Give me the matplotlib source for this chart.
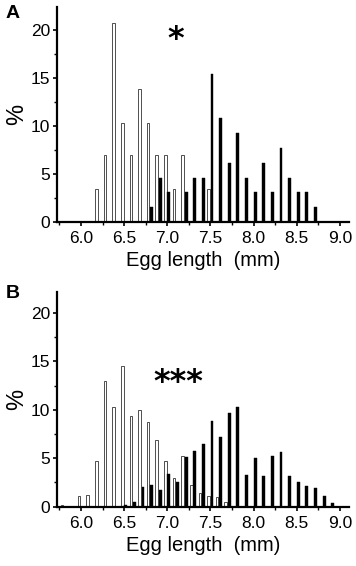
import numpy as np
import matplotlib.pyplot as plt
from matplotlib.ticker import MultipleLocator

plt.rcParams["font.family"] = ["Liberation Sans", "DejaVu Sans"]

# Panel A: egg length bins (mm) and percentages
a_white_x = [6.2, 6.3, 6.4, 6.5, 6.6, 6.7, 6.8, 6.9, 7.0, 7.1, 7.2, 7.5]
a_white_pct = [3.45, 6.9, 20.7, 10.3, 6.9, 13.8, 10.3, 6.9, 6.9, 3.45, 6.9, 3.45]
a_black_x = [6.8, 6.9, 7.0, 7.2, 7.3, 7.4, 7.5, 7.6, 7.7, 7.8, 7.9, 8.0,
             8.1, 8.2, 8.3, 8.4, 8.5, 8.6, 8.7]
a_black_pct = [1.54, 4.6, 3.08, 3.08, 4.6, 4.6, 15.4, 10.8, 6.15, 9.23, 4.6,
               3.08, 6.15, 3.08, 7.69, 4.6, 3.08, 3.08, 1.54]

# Panel B
b_white_x = [5.8, 6.0, 6.1, 6.2, 6.3, 6.4, 6.5, 6.6, 6.7, 6.8, 6.9, 7.0,
             7.1, 7.2, 7.3, 7.4, 7.5, 7.6, 7.7, 7.8]
b_white_pct = [0.2, 1.1, 1.2, 4.7, 13.0, 10.3, 14.5, 9.4, 10.0, 8.7, 6.9,
               4.7, 3.0, 5.2, 2.2, 1.4, 1.1, 0.95, 0.5, 0.08]
b_black_x = [6.5, 6.6, 6.7, 6.8, 6.9, 7.0, 7.1, 7.2, 7.3, 7.4, 7.5, 7.6,
             7.7, 7.8, 7.9, 8.0, 8.1, 8.2, 8.3, 8.4, 8.5, 8.6, 8.7, 8.8, 8.9]
b_black_pct = [0.15, 0.5, 2.0, 2.2, 1.7, 3.4, 2.5, 5.1, 5.8, 6.5, 8.8, 7.2,
               9.7, 10.3, 3.3, 5.0, 3.2, 5.2, 5.6, 3.2, 2.6, 2.1, 1.9, 1.1, 0.35]

x_ticks = [6.0, 6.5, 7.0, 7.5, 8.0, 8.5, 9.0]
y_ticks = [0, 5, 10, 15, 20]

fig = plt.figure(figsize=(3.56, 5.66), dpi=100)


def draw_panel(ax, wx, wy, bx, by, ytop):
    ax.bar(np.array(wx) - 0.022, wy, width=0.03, color="white",
           edgecolor="#333333", linewidth=0.6, zorder=2)
    ax.bar(np.array(bx) + 0.018, by, width=0.034, color="black",
           edgecolor="black", linewidth=0.3, zorder=3)
    ax.set_xlim(5.725, 9.105)
    ax.set_ylim(0, ytop)
    ax.spines["top"].set_visible(False)
    ax.spines["right"].set_visible(False)
    ax.spines["left"].set_linewidth(1.6)
    ax.spines["bottom"].set_linewidth(1.6)
    ax.set_xticks(x_ticks)
    ax.set_xticklabels([f"{v:.1f}" for v in x_ticks])
    ax.xaxis.set_minor_locator(MultipleLocator(0.25))
    ax.set_yticks(y_ticks)
    ax.yaxis.set_minor_locator(MultipleLocator(2.5))
    ax.tick_params(which="major", direction="out", length=3, width=1.2,
                   labelsize=12.5, pad=2)
    ax.tick_params(axis="x", which="major", pad=4)
    ax.tick_params(which="minor", direction="out", length=2, width=1.0)
    ax.set_xlabel("Egg length  (mm)", fontsize=14.5, labelpad=3)
    ax.set_ylabel("%", fontsize=17, labelpad=2)


ax_a = fig.add_axes([0.161, 0.6083, 0.819, 0.38])
draw_panel(ax_a, a_white_x, a_white_pct, a_black_x, a_black_pct, 22.4)
ax_a.text(7.10, 19.0, "*", fontsize=23, fontweight="bold", ha="center",
          va="center", family="DejaVu Sans")

ax_b = fig.add_axes([0.161, 0.1048, 0.819, 0.3798])
draw_panel(ax_b, b_white_x, b_white_pct, b_black_x, b_black_pct, 22.2)
ax_b.text(7.13, 12.8, "***", fontsize=23, fontweight="bold", ha="center",
          va="center", family="DejaVu Sans")

fig.text(0.036, 0.977, "A", fontsize=14, fontweight="bold", ha="center", va="center")
fig.text(0.036, 0.482, "B", fontsize=14, fontweight="bold", ha="center", va="center")

fig.savefig("out.png", dpi=100)
